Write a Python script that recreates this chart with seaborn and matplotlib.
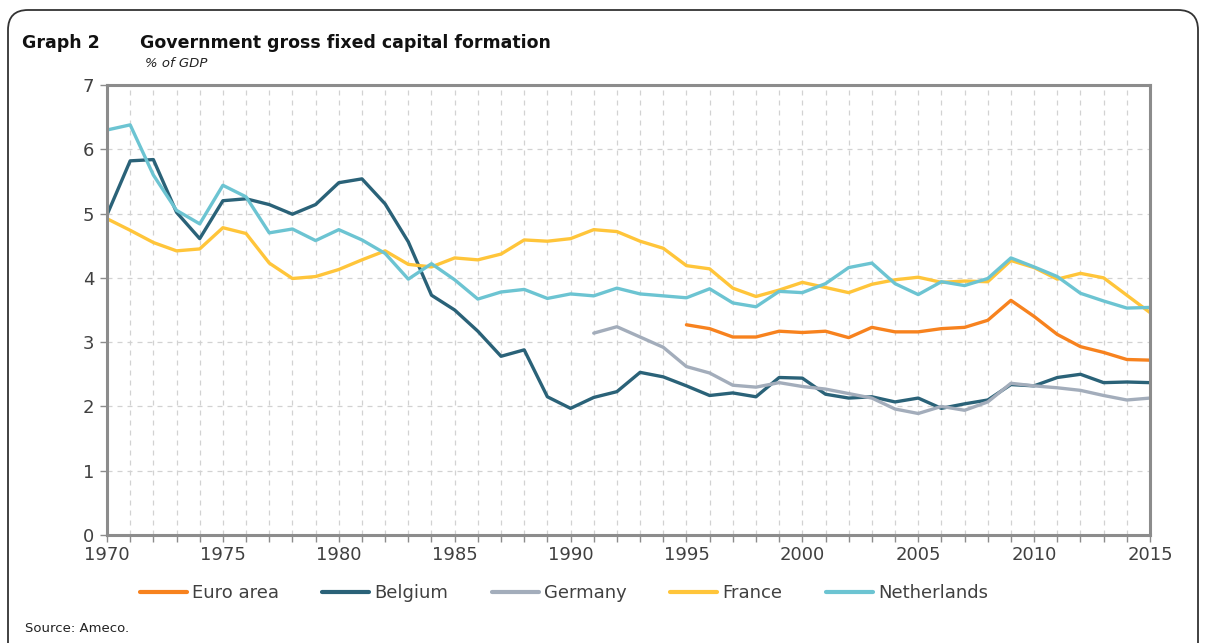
"""
Graph 2 - Government gross fixed capital formation (% of GDP), Ameco data.
"""
import matplotlib.pyplot as plt
import numpy as np
import pandas as pd
import seaborn as sns
from matplotlib.patches import FancyBboxPatch
from matplotlib.ticker import MultipleLocator

# --- data --------------------------------------------------------------------
years_full = list(range(1970, 2016))
years_de = list(range(1991, 2016))
years_ea = list(range(1995, 2016))

euro_area = [3.27, 3.21, 3.08, 3.08, 3.17,
             3.15, 3.17, 3.07, 3.23, 3.16, 3.16, 3.21, 3.23, 3.34, 3.65,
             3.40, 3.12, 2.93, 2.84, 2.73, 2.72]
belgium = [4.98, 5.82, 5.84, 5.02, 4.61, 5.20, 5.23, 5.14, 4.99, 5.14,
           5.48, 5.54, 5.15, 4.56, 3.73, 3.50, 3.17, 2.78, 2.88, 2.15,
           1.97, 2.14, 2.23, 2.53, 2.46, 2.32, 2.17, 2.21, 2.15, 2.45,
           2.44, 2.19, 2.13, 2.15, 2.07, 2.13, 1.97, 2.04, 2.10, 2.34,
           2.32, 2.45, 2.50, 2.37, 2.38, 2.37]
germany = [3.14, 3.24, 3.08, 2.92, 2.62, 2.52, 2.33, 2.30, 2.37,
           2.31, 2.27, 2.20, 2.13, 1.96, 1.89, 2.00, 1.94, 2.07, 2.36,
           2.32, 2.29, 2.25, 2.17, 2.10, 2.13]
france = [4.92, 4.74, 4.55, 4.42, 4.45, 4.78, 4.69, 4.23, 3.99, 4.02,
          4.13, 4.28, 4.42, 4.21, 4.17, 4.31, 4.28, 4.37, 4.59, 4.57,
          4.61, 4.75, 4.72, 4.57, 4.46, 4.19, 4.14, 3.84, 3.71, 3.81,
          3.93, 3.85, 3.77, 3.90, 3.97, 4.01, 3.93, 3.95, 3.94, 4.27,
          4.16, 3.98, 4.07, 4.00, 3.73, 3.46]
netherlands = [6.30, 6.38, 5.60, 5.05, 4.84, 5.44, 5.26, 4.70, 4.76, 4.58,
               4.75, 4.59, 4.38, 3.98, 4.22, 3.97, 3.67, 3.78, 3.82, 3.68,
               3.75, 3.72, 3.84, 3.75, 3.72, 3.69, 3.83, 3.61, 3.55, 3.79,
               3.77, 3.91, 4.16, 4.23, 3.91, 3.74, 3.94, 3.88, 3.99, 4.31,
               4.17, 4.02, 3.76, 3.64, 3.53, 3.54]

series = ["Euro area", "Belgium", "Germany", "France", "Netherlands"]
colors = ["#F7821E", "#2A6278", "#A3ADBB", "#FFC53A", "#6CC4D2"]

df = pd.concat([
    pd.DataFrame({"year": years_ea, "value": euro_area, "series": "Euro area"}),
    pd.DataFrame({"year": years_full, "value": belgium, "series": "Belgium"}),
    pd.DataFrame({"year": years_de, "value": germany, "series": "Germany"}),
    pd.DataFrame({"year": years_full, "value": france, "series": "France"}),
    pd.DataFrame({"year": years_full, "value": netherlands, "series": "Netherlands"}),
], ignore_index=True)

# --- style ---------------------------------------------------------------------
sns.set_theme(style="white")
plt.rcParams["font.family"] = ["DejaVu Sans"]
GRID = "#D2D2D2"
AXIS = "#8C8C8C"
TXT = "#404040"

fig = plt.figure(figsize=(12.08, 6.43), dpi=100)
ax = fig.add_axes([107 / 1208, 1 - 535 / 643, (1150 - 107) / 1208, (535 - 85) / 643])

sns.lineplot(data=df, x="year", y="value", hue="series", hue_order=series,
             palette=dict(zip(series, colors)), linewidth=2.4, ax=ax,
             estimator=None, sort=True)

ax.set_xlim(1970, 2015)
ax.set_ylim(0, 7)
ax.xaxis.set_major_locator(MultipleLocator(5))
ax.xaxis.set_minor_locator(MultipleLocator(1))
ax.yaxis.set_major_locator(MultipleLocator(1))
ax.grid(True, which="both", axis="x", color=GRID, ls=(0, (4, 4)), lw=0.9)
ax.grid(True, which="major", axis="y", color=GRID, ls=(0, (4, 4)), lw=0.9)
ax.set_axisbelow(True)
for s in ax.spines.values():
    s.set_visible(True)
    s.set_color(AXIS)
    s.set_linewidth(2.2)
ax.tick_params(axis="both", which="both", direction="out", color=AXIS,
               length=5, width=1, labelsize=13, labelcolor=TXT)
ax.tick_params(axis="x", which="both", bottom=True, pad=3)
ax.tick_params(axis="y", left=True, pad=4)
ax.set_xlabel("")
ax.set_ylabel("")

handles, labels = ax.get_legend_handles_labels()
ax.legend_.remove()
for h in handles:
    h.set_linewidth(3)
fig.legend(handles, labels, loc="center", bbox_to_anchor=(564 / 1208, 1 - 593 / 643),
           ncol=5, frameon=False, fontsize=13, handlelength=2.6,
           handletextpad=0.3, columnspacing=2.4, labelcolor=TXT)

# --- titles / notes --------------------------------------------------------
fig.text(22 / 1208, 1 - 48 / 643, "Graph 2", fontsize=12.5, fontweight="bold",
         color="#111111", va="baseline")
fig.text(140 / 1208, 1 - 48 / 643, "Government gross fixed capital formation",
         fontsize=12.5, fontweight="bold", color="#111111", va="baseline")
fig.text(145 / 1208, 1 - 67 / 643, "% of GDP", fontsize=9.5, style="italic",
         color="#222222", va="baseline")
fig.text(25 / 1208, 1 - 628 / 643, "Source: Ameco.", fontsize=9.5,
         color="#222222", va="center")

# rounded outer frame (in inches, bottom edge runs off the canvas)
frame = FancyBboxPatch((0.08, -0.5), 11.9, 6.83,
                       boxstyle="round,pad=0,rounding_size=0.2",
                       transform=fig.dpi_scale_trans, fill=False,
                       edgecolor="#333333", linewidth=1.3, clip_on=False)
fig.patches.append(frame)

fig.savefig("out.png", dpi=100)
